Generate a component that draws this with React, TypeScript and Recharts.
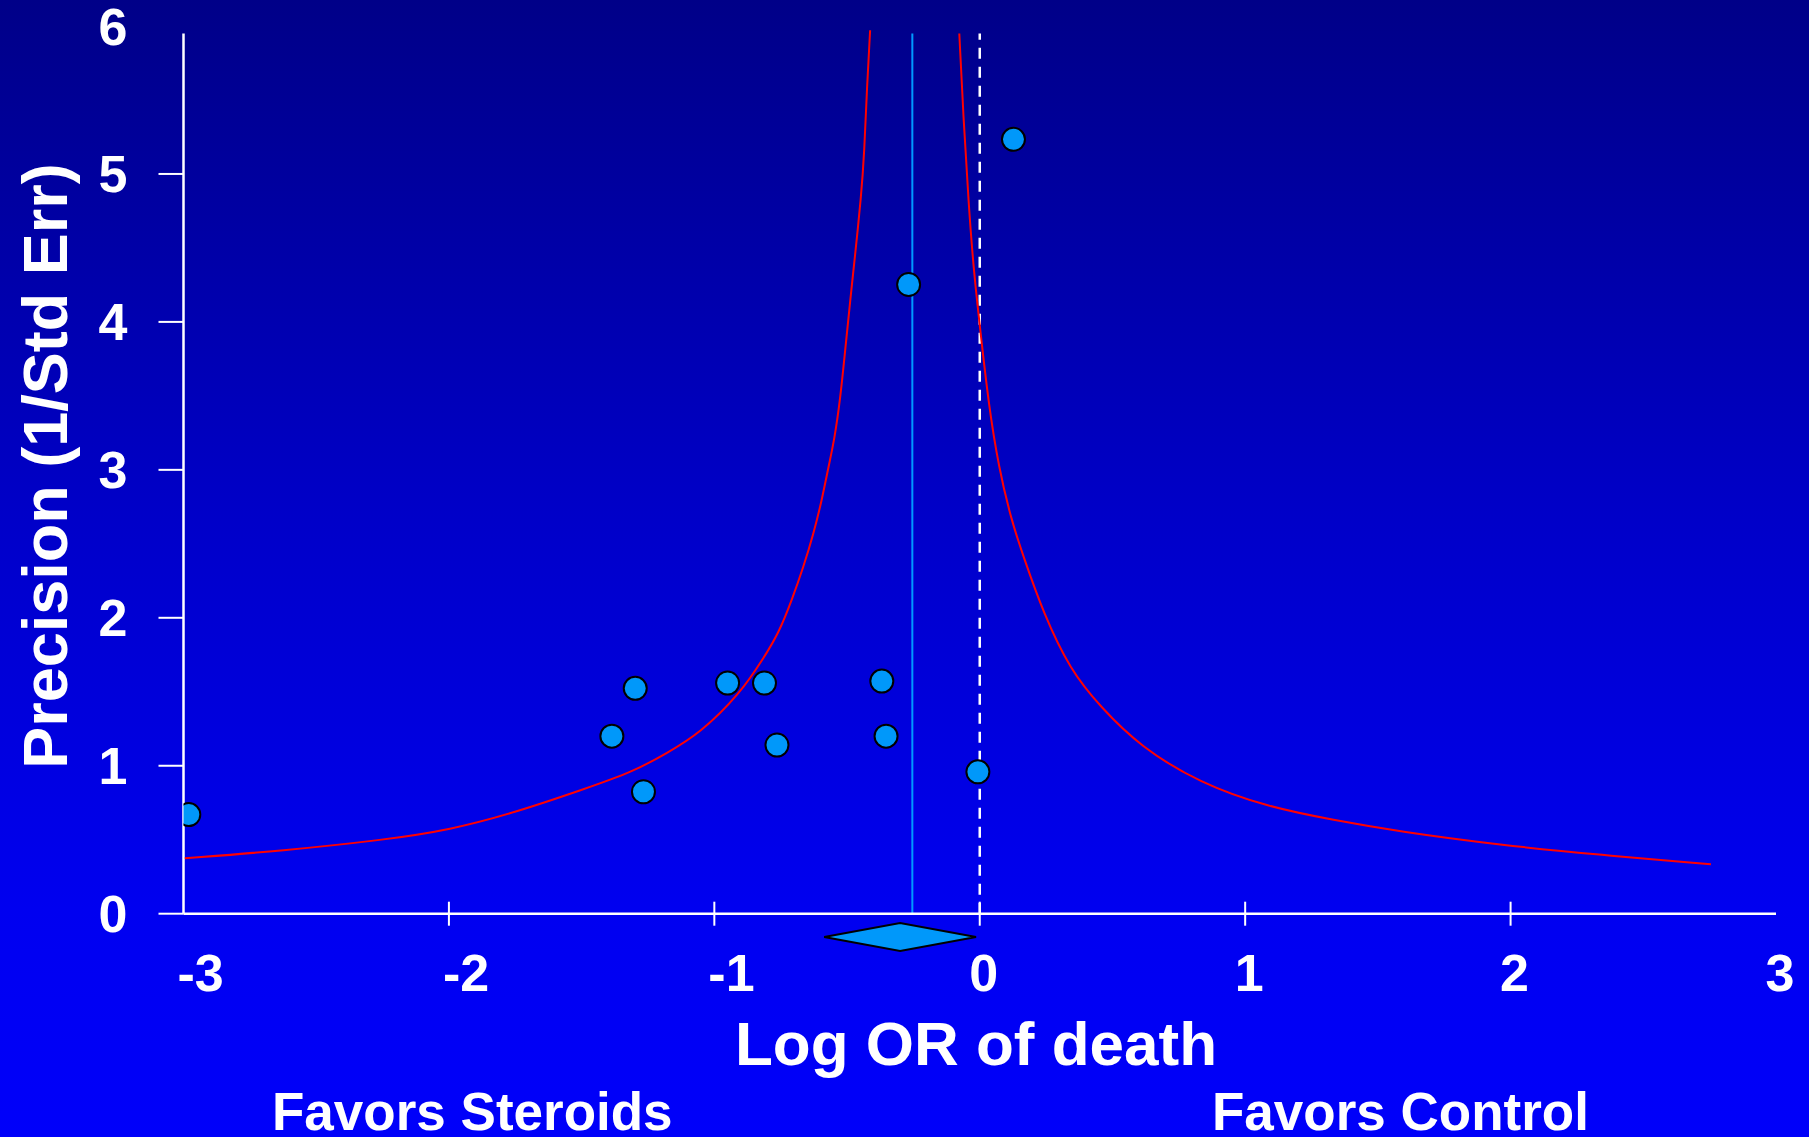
import React from "react";
import {
  ComposedChart,
  Line,
  Scatter,
  XAxis,
  YAxis,
  ReferenceLine,
  ReferenceArea,
} from "recharts";

// ticks
const xTicks = [-3, -2, -1, 0, 1, 2, 3];
const yTicks = [0, 1, 2, 3, 4, 5, 6];

// individual studies (log OR, precision)
const studyLogOR = [-2.98, -1.386, -1.298, -1.267, -0.95, -0.811, -0.764, -0.369, -0.353, -0.007, -0.268, 0.127];
const studyPrecision = [0.67, 1.2, 1.523, 0.824, 1.559, 1.559, 1.14, 1.572, 1.2, 0.959, 4.253, 5.234];

// funnel limits
const leftLimitX = [-2.995, -2.624, -2.248, -1.996, -1.745, -1.494, -1.306, -1.18, -1.054, -0.902, -0.815, -0.758, -0.708, -0.664, -0.626, -0.595, -0.57, -0.548, -0.526, -0.507, -0.488, -0.469, -0.447, -0.435, -0.425, -0.413];
const leftLimitY = [0.374, 0.426, 0.498, 0.566, 0.687, 0.84, 0.959, 1.084, 1.219, 1.489, 1.726, 1.895, 2.12, 2.345, 2.57, 2.795, 3.02, 3.201, 3.471, 3.809, 4.146, 4.462, 4.845, 5.138, 5.588, 5.971];
const rightLimitX = [-0.077, -0.061, -0.042, -0.023, 0.002, 0.033, 0.071, 0.119, 0.165, 0.24, 0.341, 0.454, 0.605, 0.831, 1.082, 1.333, 1.584, 1.961, 2.338, 2.755];
const rightLimitY = [5.949, 5.363, 4.8, 4.349, 3.944, 3.449, 3.02, 2.66, 2.412, 2.03, 1.647, 1.399, 1.128, 0.881, 0.723, 0.633, 0.554, 0.464, 0.397, 0.334];

// pooled estimate and its confidence interval
const pooledLogOR = -0.254;
const pooledCI = [-0.586, -0.014];
const lineTop = 5.95;

const studies = studyLogOR.map((x, i) => ({ x, y: studyPrecision[i] }));
const leftLimit = leftLimitX.map((x, i) => ({ x, y: leftLimitY[i] }));
const rightLimit = rightLimitX.map((x, i) => ({ x, y: rightLimitY[i] }));

const FONT = '"Liberation Sans", Arial, Helvetica, sans-serif';
const POINT = "#0098fa";

const XTick = ({ x, y, payload }) => {
  const v = payload.value;
  const neg = v < 0;
  const edge = v === -3 || v === 3;
  return (
    <g>
      {!edge && <line x1={x} x2={x} y1={y - 24} y2={y} stroke="#fff" strokeWidth={2} />}
      <text
        x={neg ? x - 6 : x + 4}
        y={y + 65}
        textAnchor={neg ? "start" : "middle"}
        fill="#fff"
        fontSize={52}
        fontWeight="bold"
        fontFamily={FONT}
      >
        {String(v)}
      </text>
    </g>
  );
};

const YTick = ({ x, y, payload }) => {
  const v = payload.value;
  return (
    <g>
      {v !== 6 && <line x1={x + 31} x2={x + 56} y1={y} y2={y} stroke="#fff" strokeWidth={2} />}
      <text x={x} y={y + 18.5} textAnchor="end" fill="#fff" fontSize={52} fontWeight="bold" fontFamily={FONT}>
        {String(v)}
      </text>
    </g>
  );
};

const StudyDot = (props) => (
  <circle cx={props.cx} cy={props.cy} r={11.5} fill={POINT} stroke="#000" strokeWidth={2} />
);

const Diamond = ({ x, y, width, height }) => {
  const cx = x + width / 2;
  const cy = y + height / 2;
  return (
    <polygon
      points={`${x},${cy} ${cx},${y} ${x + width},${cy} ${cx},${y + height}`}
      fill={POINT}
      stroke="#000"
      strokeWidth={2}
    />
  );
};

export default function App() {
  return (
    <div
      style={{
        position: "absolute",
        left: 0,
        top: 0,
        width: 1809,
        height: 1137,
        overflow: "hidden",
        background: "linear-gradient(to bottom, #000088 0%, #0000c8 45%, #0000f0 80%, #0000fa 100%)",
      }}
    >
      <ComposedChart
        width={1809}
        height={1137}
        margin={{ top: 26, right: 33, left: 63.5, bottom: 123.3 }}
      >
        <XAxis
          type="number"
          dataKey="x"
          domain={[-3, 3]}
          ticks={xTicks}
          height={100}
          tickSize={12}
          tickMargin={0}
          tickLine={false}
          axisLine={{ stroke: "#fff", strokeWidth: 2.5 }}
          tick={XTick}
          allowDataOverflow
        />
        <YAxis
          type="number"
          dataKey="y"
          domain={[0, 6]}
          ticks={yTicks}
          width={120}
          tickSize={25}
          tickMargin={31}
          tickLine={false}
          axisLine={false}
          tick={YTick}
          allowDataOverflow
        />
        <ReferenceLine
          segment={[{ x: -3, y: 0 }, { x: -3, y: lineTop }]}
          stroke="#fff"
          strokeWidth={2.5}
          ifOverflow="visible"
        />
        <ReferenceLine
          segment={[{ x: 0, y: 0 }, { x: 0, y: lineTop }]}
          stroke="#fff"
          strokeWidth={2.5}
          strokeDasharray="11 8"
          ifOverflow="visible"
        />
        <ReferenceLine
          segment={[{ x: pooledLogOR, y: 0 }, { x: pooledLogOR, y: lineTop }]}
          stroke="#0099ff"
          strokeWidth={2}
          ifOverflow="visible"
        />
        <ReferenceArea
          x1={pooledCI[0]}
          x2={pooledCI[1]}
          y1={-0.252}
          y2={-0.063}
          ifOverflow="visible"
          shape={Diamond}
        />
        <Line
          data={leftLimit}
          dataKey="y"
          type="basis"
          stroke="#ff0000"
          strokeWidth={2}
          dot={false}
          activeDot={false}
          isAnimationActive={false}
        />
        <Line
          data={rightLimit}
          dataKey="y"
          type="basis"
          stroke="#ff0000"
          strokeWidth={2}
          dot={false}
          activeDot={false}
          isAnimationActive={false}
        />
        <Scatter data={studies} dataKey="y" shape={StudyDot} isAnimationActive={false} />
      </ComposedChart>
      <svg
        width={1809}
        height={1137}
        style={{ position: "absolute", left: 0, top: 0, pointerEvents: "none" }}
      >
        <g fill="#fff" fontWeight="bold" fontFamily={FONT}>
          <text x={67} y={466} fontSize={63} textAnchor="middle" transform="rotate(-90 67 466)">
            Precision (1/Std Err)
          </text>
          <text x={976} y={1065} fontSize={62} textAnchor="middle">
            Log OR of death
          </text>
          <text x={272} y={1130} fontSize={53}>
            Favors Steroids
          </text>
          <text x={1212} y={1130} fontSize={53}>
            Favors Control
          </text>
        </g>
      </svg>
    </div>
  );
}
